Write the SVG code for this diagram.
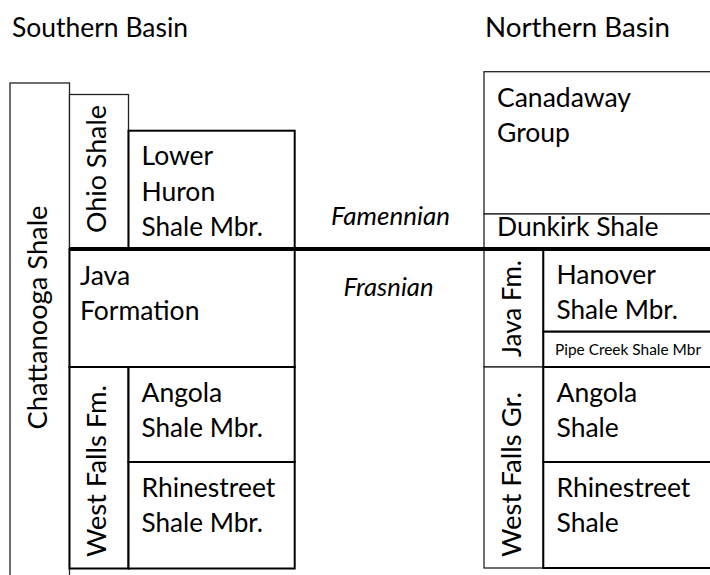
<svg xmlns="http://www.w3.org/2000/svg" width="710" height="575" viewBox="0 0 710 575">
  <style>
    text { font-family: Lato, "Liberation Sans", sans-serif; fill: #000; }
    .t { font-size: 26.5px; }
    .hdr { font-size: 27px; }
    .it { font-size: 26px; font-style: italic; }
    .sm { font-size: 16px; }
    .thin { fill: #fff; stroke: #222; stroke-width: 1.3; }
    .thick { fill: #fff; stroke: #000; stroke-width: 2; }
    .bnd { stroke: #000; stroke-width: 4; }
  </style>
  <rect x="0" y="0" width="710" height="575" fill="#fff"/>

  <text class="hdr" x="12" y="37" textLength="176" lengthAdjust="spacingAndGlyphs">Southern Basin</text>
  <text class="hdr" x="485" y="37" textLength="185" lengthAdjust="spacingAndGlyphs">Northern Basin</text>

  <!-- Southern Basin -->
  <g id="chattanooga-shale">
    <rect class="thin" x="10" y="83" width="59.5" height="510"/>
    <text class="t" text-anchor="middle" transform="translate(46.5,317.5) rotate(-90)" textLength="224" lengthAdjust="spacingAndGlyphs">Chattanooga Shale</text>
  </g>
  <g id="ohio-shale">
    <rect class="thin" x="69.5" y="94.5" width="59" height="154.5"/>
    <text class="t" text-anchor="middle" transform="translate(106,169) rotate(-90)" textLength="128" lengthAdjust="spacingAndGlyphs">Ohio Shale</text>
  </g>
  <g id="lower-huron">
    <rect class="thick" x="128.5" y="130.7" width="166.2" height="118.3"/>
    <text class="t" x="141.5" y="165">Lower</text>
    <text class="t" x="141.5" y="200.5">Huron</text>
    <text class="t" x="141.5" y="235.5" textLength="121.5" lengthAdjust="spacingAndGlyphs">Shale Mbr.</text>
  </g>
  <g id="java-formation">
    <rect class="thick" x="69.5" y="249" width="225.2" height="118"/>
    <text class="t" x="80" y="285">Java</text>
    <text class="t" x="80" y="320">Formation</text>
  </g>
  <g id="west-falls-fm">
    <rect class="thick" x="69.5" y="367" width="59" height="201.5"/>
    <text class="t" text-anchor="middle" transform="translate(106,471) rotate(-90)" textLength="172" lengthAdjust="spacingAndGlyphs">West Falls Fm.</text>
  </g>
  <g id="angola-shale-mbr">
    <rect class="thick" x="128.5" y="367" width="166.2" height="95"/>
    <text class="t" x="141.5" y="402">Angola</text>
    <text class="t" x="141.5" y="437" textLength="121.5" lengthAdjust="spacingAndGlyphs">Shale Mbr.</text>
  </g>
  <g id="rhinestreet-shale-mbr">
    <rect class="thick" x="128.5" y="462" width="166.2" height="106.5"/>
    <text class="t" x="141.5" y="497">Rhinestreet</text>
    <text class="t" x="141.5" y="532" textLength="121.5" lengthAdjust="spacingAndGlyphs">Shale Mbr.</text>
  </g>

  <!-- Northern Basin -->
  <g id="canadaway-group">
    <rect class="thin" x="484" y="71.7" width="240" height="142.3"/>
    <text class="t" x="497" y="106.5">Canadaway</text>
    <text class="t" x="497" y="141.5">Group</text>
  </g>
  <g id="dunkirk-shale">
    <rect class="thin" x="484" y="214" width="240" height="35"/>
    <text class="t" x="497" y="236">Dunkirk Shale</text>
  </g>
  <g id="java-fm">
    <rect class="thin" x="484" y="249" width="59.3" height="118"/>
    <text class="t" text-anchor="middle" transform="translate(521,308.5) rotate(-90)" textLength="97" lengthAdjust="spacingAndGlyphs">Java Fm.</text>
  </g>
  <g id="hanover-shale-mbr">
    <rect class="thick" x="543.3" y="249" width="180" height="82.7"/>
    <text class="t" x="556.5" y="284">Hanover</text>
    <text class="t" x="556.5" y="319" textLength="121.5" lengthAdjust="spacingAndGlyphs">Shale Mbr.</text>
  </g>
  <g id="pipe-creek-shale-mbr">
    <rect class="thick" x="543.3" y="331.7" width="180" height="35.3"/>
    <text class="sm" x="555" y="355" textLength="146" lengthAdjust="spacingAndGlyphs">Pipe Creek Shale Mbr</text>
  </g>
  <g id="west-falls-gr">
    <rect class="thin" x="484" y="367" width="59.3" height="201"/>
    <text class="t" text-anchor="middle" transform="translate(521,474.5) rotate(-90)" textLength="165" lengthAdjust="spacingAndGlyphs">West Falls Gr.</text>
  </g>
  <g id="angola-shale">
    <rect class="thick" x="543.3" y="367" width="180" height="95"/>
    <text class="t" x="556.5" y="402">Angola</text>
    <text class="t" x="556.5" y="437">Shale</text>
  </g>
  <g id="rhinestreet-shale">
    <rect class="thick" x="543.3" y="462" width="180" height="106"/>
    <text class="t" x="556.5" y="497">Rhinestreet</text>
    <text class="t" x="556.5" y="532">Shale</text>
  </g>

  <!-- stage boundary -->
  <g id="connectors">
    <line class="bnd" x1="69.5" y1="249" x2="710" y2="249"/>
  </g>
  <g id="stage-labels">
    <text class="it" text-anchor="middle" x="390.5" y="225" textLength="119" lengthAdjust="spacingAndGlyphs">Famennian</text>
    <text class="it" text-anchor="middle" x="388.5" y="296" textLength="90" lengthAdjust="spacingAndGlyphs">Frasnian</text>
  </g>
</svg>
